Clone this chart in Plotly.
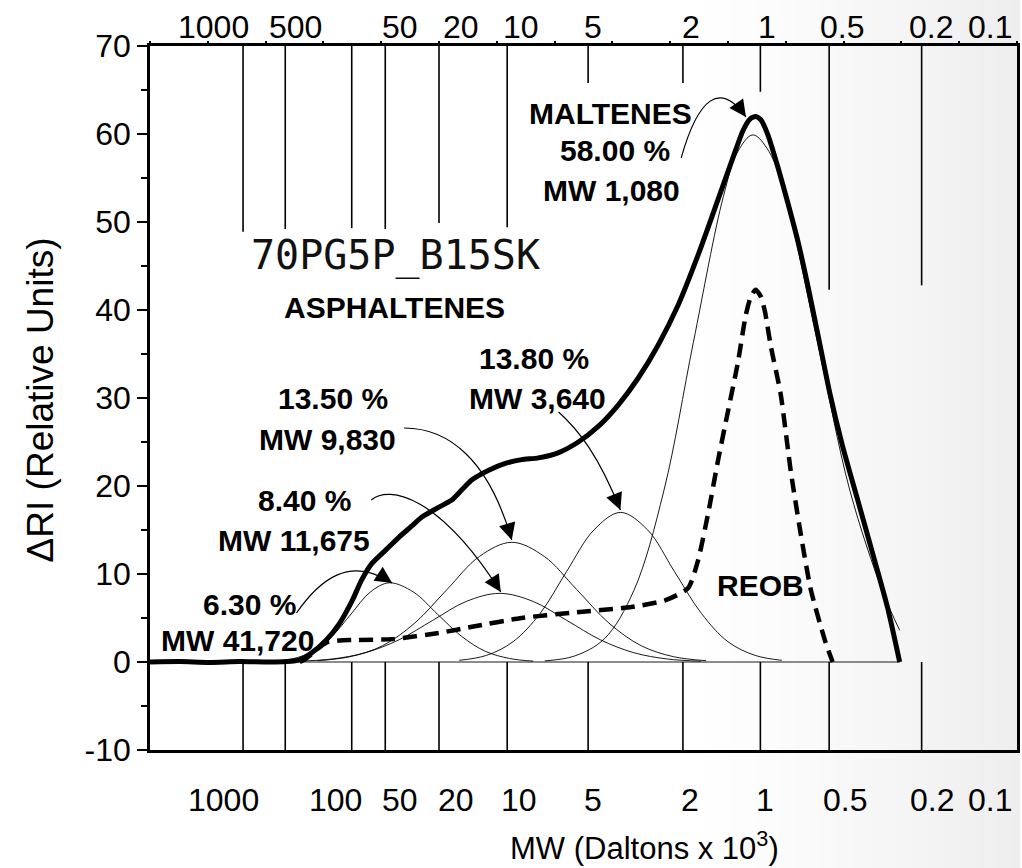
import plotly.graph_objects as go

# ---------------- data (hidden elution axis 0-15, RI in relative units) ----------------
t_main = [0.0, 0.52, 1.03, 1.55, 2.07, 2.36, 2.59, 2.81, 3.05, 3.28, 3.50, 3.66, 3.84,
          4.09, 4.31, 4.52, 4.71, 5.00, 5.22, 5.40, 5.57, 5.86, 6.16, 6.43, 6.72, 7.07,
          7.41, 7.76, 8.10, 8.45, 8.79, 9.14, 9.48, 9.83, 10.09, 10.26, 10.38, 10.48,
          10.57, 10.69, 10.86, 11.03, 11.21, 11.38, 11.55, 11.76, 11.98, 12.24, 12.50,
          12.76, 12.97]
ri_main = [0.0, 0.05, -0.05, 0.05, 0.0, 0.05, 0.25, 1.1, 2.5, 4.4, 7.0, 9.3, 11.2,
           12.8, 14.2, 15.4, 16.5, 17.6, 18.4, 19.6, 20.7, 21.8, 22.6, 23.0, 23.2, 23.8,
           25.0, 26.8, 29.2, 32.3, 36.0, 40.6, 46.2, 52.6, 57.4, 60.4, 61.7, 62.0,
           61.6, 59.9, 56.3, 52.3, 47.8, 42.8, 37.4, 30.6, 24.6, 18.5, 12.4,
           6.2, 0.0]

t_p1 = [2.16, 2.49, 2.82, 3.15, 3.48, 3.81, 4.14, 4.56, 4.97, 5.39, 5.80, 6.22, 6.63]
ri_p1 = [0.10, 0.40, 1.22, 2.92, 5.46, 7.94, 9.00, 7.94, 5.46, 2.92, 1.22, 0.40, 0.10]

t_p2 = [2.57, 3.15, 3.73, 4.31, 4.89, 5.47, 6.05, 6.63, 7.21, 7.79, 8.37, 8.95, 9.53]
ri_p2 = [0.09, 0.34, 1.06, 2.53, 4.73, 6.88, 7.80, 6.88, 4.73, 2.53, 1.06, 0.34, 0.09]

t_p3 = [2.90, 3.46, 4.02, 4.58, 5.14, 5.70, 6.26, 6.82, 7.38, 7.94, 8.50, 9.06, 9.62]
ri_p3 = [0.15, 0.60, 1.84, 4.42, 8.25, 12.0, 13.6, 12.0, 8.25, 4.42, 1.84, 0.60, 0.15]

t_p4 = [5.35, 5.82, 6.28, 6.75, 7.21, 7.68, 8.14, 8.61, 9.07, 9.54, 10.00, 10.47, 10.93]
ri_p4 = [0.19, 0.75, 2.30, 5.52, 10.31, 15.0, 17.0, 15.0, 10.31, 5.52, 2.30, 0.75, 0.19]

t_malt = [6.83, 7.34, 7.86, 8.37, 8.89, 9.40, 9.92, 10.17, 10.43, 10.71, 10.99, 11.55,
          12.11, 12.67, 12.97]
ri_malt = [0.13, 0.67, 2.63, 8.11, 19.45, 36.3, 52.9, 58.0, 59.9, 58.0, 52.9, 36.3,
           19.45, 8.11, 3.6]

t_reob = [2.59, 2.71, 2.88, 3.05, 3.28, 3.50, 4.19, 5.00, 5.57, 6.43, 7.29, 8.33, 8.91,
          9.31, 9.48, 9.66, 9.83, 10.00, 10.17, 10.31, 10.40, 10.48, 10.57, 10.64, 10.74,
          10.91, 11.09, 11.26, 11.43, 11.67, 11.81]
ri_reob = [0.0, 0.45, 1.4, 2.2, 2.45, 2.5, 2.6, 3.3, 4.0, 5.0, 5.6, 6.25, 7.0,
           8.4, 11.5, 17.0, 23.0, 28.5, 34.0, 39.5, 41.6, 42.3, 41.5, 39.8, 35.9,
           30.5, 21.5, 14.5, 8.3, 2.6, 0.0]

t_base = [2.6, 12.97]
ri_base = [0.0, 0.0]

# MW calibration lines
mw_line_values = [1000, 500, 100, 50, 20, 10, 5, 2, 1, 0.5, 0.2]
mw_line_t = [1.61, 2.34, 3.49, 4.07, 5.00, 6.18, 7.58, 9.22, 10.56, 11.75, 13.35]
top_line_end = [48.9, 49.2, 49.3, 49.2, 49.9, 49.4, 65.8, 65.8, 64.8, 42.3, 42.8]

top_labels = ["1000", "500", "50", "20", "10", "5", "2", "1", "0.5", "0.2", "0.1"]
top_label_t = [1.09, 2.52, 4.33, 5.38, 6.41, 7.66, 9.36, 10.67, 11.98, 13.52, 14.53]
bottom_labels = ["1000", "100", "50", "20", "10", "5", "2", "1", "0.5", "0.2", "0.1"]
bottom_label_t = [1.28, 3.21, 4.33, 5.29, 6.38, 7.67, 9.34, 10.64, 12.03, 13.53, 14.53]

y_tickvals = [-10, 0, 10, 20, 30, 40, 50, 60, 70]
y_ticktext = ["-10", "0", "10", "20", "30", "40", "50", "60", "70"]

comp_pct = ["6.30 %", "8.40 %", "13.50 %", "13.80 %", "58.00 %"]
comp_mw = ["MW 41,720", "MW 11,675", "MW 9,830", "MW 3,640", "MW 1,080"]

# ---------------- layout geometry helpers (pixel -> axis units) ----------------
L, R, T, B = 150, 2, 46, 118
W, H = 1022, 868
PW, PH = W - L - R, H - T - B
XR = [0, 15]
YR = [-10, 70]


def dx(px):
    return XR[0] + (px - L) / PW * (XR[1] - XR[0])


def dy(py):
    return YR[1] - (py - T) / PH * (YR[1] - YR[0])


def paper_x(px):
    return (px - L) / PW


def paper_y(py):
    return (H - B - py) / PH


FONT = "Liberation Sans, Arial, sans-serif"

fig = go.Figure()

thin = dict(color="black", width=0.9, shape="spline", smoothing=1.0)
for tx, ty in [(t_p1, ri_p1), (t_p2, ri_p2), (t_p3, ri_p3), (t_p4, ri_p4), (t_malt, ri_malt)]:
    fig.add_trace(go.Scatter(x=tx, y=ty, mode="lines", line=thin, hoverinfo="skip",
                             showlegend=False))
fig.add_trace(go.Scatter(x=t_base, y=ri_base, mode="lines",
                         line=dict(color="black", width=0.9), showlegend=False))
fig.add_trace(go.Scatter(x=t_reob, y=ri_reob, mode="lines",
                         line=dict(color="black", width=4.5, dash="14px,8px",
                                   shape="spline", smoothing=0.6),
                         showlegend=False))
fig.add_trace(go.Scatter(x=t_main, y=ri_main, mode="lines",
                         line=dict(color="black", width=5, shape="spline", smoothing=0.6),
                         showlegend=False))
# invisible trace on the top tick axis
fig.add_trace(go.Scatter(x=XR, y=[0, 0], xaxis="x2", mode="markers",
                         marker=dict(opacity=0), hoverinfo="skip", showlegend=False))

shapes = []
# background gradient on right side
N = 40
gx0, gx1 = 690, W
for i in range(N):
    a = gx0 + (gx1 - gx0) * i / N
    b = gx0 + (gx1 - gx0) * (i + 1) / N + 1
    g = int(round(255 - ((i + 0.5) / N) ** 1.2 * 17))
    shapes.append(dict(type="rect", xref="paper", yref="paper", layer="below",
                       x0=paper_x(a), x1=paper_x(b), y0=paper_y(H), y1=paper_y(0),
                       fillcolor=f"rgb({g},{g},{g})", line=dict(width=0)))

# MW lines
for t, yend in zip(mw_line_t, top_line_end):
    shapes.append(dict(type="line", xref="x", yref="y", x0=t, x1=t, y0=YR[1], y1=yend,
                       line=dict(color="black", width=1.6)))
    shapes.append(dict(type="line", xref="x", yref="y", x0=t, x1=t, y0=0, y1=YR[0],
                       line=dict(color="black", width=1.6)))

# curved arrows (pixel geometry of the callouts)
arrows = [
    # start, ctrl1, ctrl2, tip
    [(683, 158), (700, 98), (722, 80), (748, 117)],
    [(560, 412), (580, 430), (600, 455), (622, 510)],
    [(405, 428), (450, 428), (490, 460), (513, 540)],
    [(372, 500), (390, 485), (440, 495), (502, 592)],
    [(297, 613), (320, 580), (350, 555), (393, 583)],
]
annotations = []
for p0, c1, c2, p1 in arrows:
    path = (f"M {dx(p0[0])},{dy(p0[1])} C {dx(c1[0])},{dy(c1[1])} "
            f"{dx(c2[0])},{dy(c2[1])} {dx(p1[0])},{dy(p1[1])}")
    shapes.append(dict(type="path", xref="x", yref="y", path=path,
                       line=dict(color="black", width=1.2)))
    vx, vy = p1[0] - c2[0], p1[1] - c2[1]
    n = (vx ** 2 + vy ** 2) ** 0.5
    annotations.append(dict(x=dx(p1[0]), y=dy(p1[1]), xref="x", yref="y", text="",
                            showarrow=True, ax=-vx / n * 16, ay=-vy / n * 16,
                            arrowhead=2, arrowsize=2.8, arrowwidth=1.2,
                            arrowcolor="black", standoff=0))

# MW tick labels top / bottom
for lab, t in zip(top_labels, top_label_t):
    annotations.append(dict(x=t, xref="x", y=paper_y(27), yref="paper", text=lab,
                            showarrow=False, xanchor="center", yanchor="middle",
                            font=dict(family=FONT, size=32, color="black")))
for lab, t in zip(bottom_labels, bottom_label_t):
    annotations.append(dict(x=t, xref="x", y=paper_y(800), yref="paper", text=lab,
                            showarrow=False, xanchor="center", yanchor="middle",
                            font=dict(family=FONT, size=32, color="black")))

# text callouts
bold = dict(family=FONT, size=30, color="black")
callouts = [
    ("<b>MALTENES</b>", 612, 113),
    ("<b>" + comp_pct[4] + "</b>", 617, 150),
    ("<b>" + comp_mw[4] + "</b>", 613, 190),
    ("<b>" + comp_pct[3] + "</b>", 535, 358),
    ("<b>" + comp_mw[3] + "</b>", 539, 398),
    ("<b>" + comp_pct[2] + "</b>", 334, 398),
    ("<b>" + comp_mw[2] + "</b>", 328, 440),
    ("<b>" + comp_pct[1] + "</b>", 305, 501),
    ("<b>" + comp_mw[1] + "</b>", 294, 540),
    ("<b>" + comp_pct[0] + "</b>", 250, 604),
    ("<b>" + comp_mw[0] + "</b>", 238, 640),
    ("<b>ASPHALTENES</b>", 395, 307),
    ("<b>REOB</b>", 763, 585),
]
for txt, px, py in callouts:
    annotations.append(dict(x=paper_x(px), y=paper_y(py), xref="paper", yref="paper",
                            text=txt, showarrow=False, xanchor="center", yanchor="middle",
                            font=bold))
annotations.append(dict(x=paper_x(396), y=paper_y(255), xref="paper", yref="paper",
                        text="70PG5P_B15SK", showarrow=False, xanchor="center",
                        yanchor="middle",
                        font=dict(family="DejaVu Sans Mono, monospace", size=40,
                                  color="#111")))
# axis titles
annotations.append(dict(x=paper_x(40), y=paper_y(400), xref="paper", yref="paper",
                        text="ΔRI (Relative Units)", textangle=-90, showarrow=False,
                        xanchor="center", yanchor="middle",
                        font=dict(family=FONT, size=37, color="black")))
annotations.append(dict(x=paper_x(646), y=paper_y(846), xref="paper", yref="paper",
                        text="MW (Daltons x 10<sup>3</sup>)", showarrow=False,
                        xanchor="center", yanchor="middle",
                        font=dict(family=FONT, size=31, color="black")))

fig.update_layout(
    width=W, height=H,
    margin=dict(l=L, r=R, t=T, b=B, pad=0),
    paper_bgcolor="white",
    plot_bgcolor="rgba(0,0,0,0)",
    showlegend=False,
    shapes=shapes,
    annotations=annotations,
    xaxis=dict(range=XR, showline=True, mirror=True, linecolor="black", linewidth=2.5,
               ticks="", showticklabels=False, showgrid=False, zeroline=False),
    xaxis2=dict(range=XR, overlaying="x", side="top", ticks="outside", ticklen=4,
                tickwidth=1.5, tickcolor="black", tick0=0, dtick=1,
                showticklabels=False, showline=False, showgrid=False, zeroline=False),
    yaxis=dict(range=YR, showline=True, mirror=True, linecolor="black", linewidth=2.5,
               ticks="outside", ticklen=10, tickwidth=2, tickcolor="black",
               tickvals=y_tickvals, ticktext=y_ticktext,
               minor=dict(dtick=5, tick0=0, ticks="outside", ticklen=6, tickwidth=2,
                          tickcolor="black"),
               tickfont=dict(family=FONT, size=32, color="black"),
               showgrid=False, zeroline=False),
)

fig.write_html("out.html")
